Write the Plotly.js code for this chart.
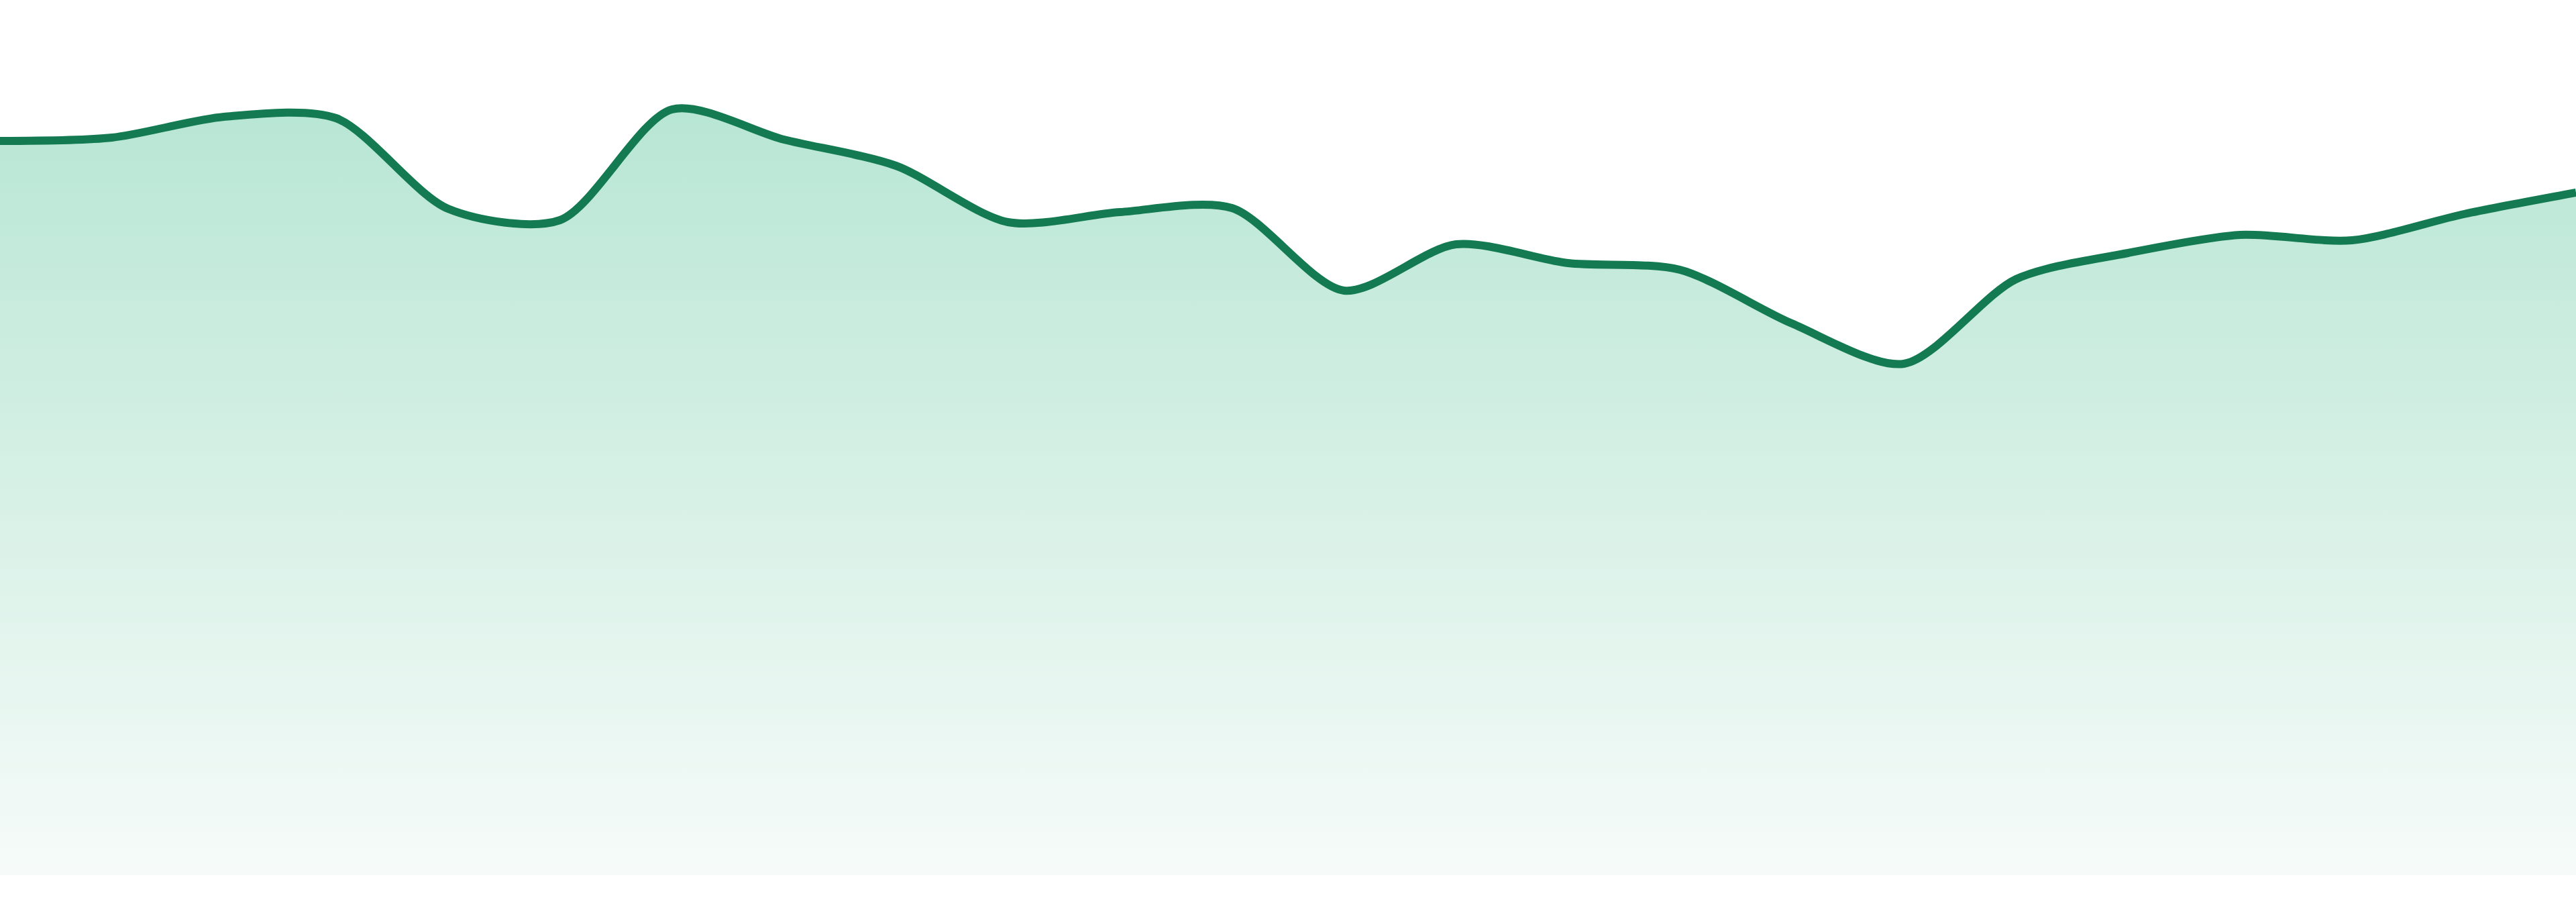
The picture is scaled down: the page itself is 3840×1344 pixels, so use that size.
<!DOCTYPE html>
<html>
<head>
<meta charset="utf-8">
<script src="https://cdn.plot.ly/plotly-3.0.1.min.js"></script>
<style>
  html, body { margin: 0; padding: 0; background: #ffffff; }
  #myDiv { width: 3840px; height: 1344px; }
</style>
</head>
<body>
<div id="myDiv"></div>
<script>
// one value per step
var steps = [0, 1, 2, 3, 4, 5, 6, 7, 8, 9, 10, 11, 12, 13, 14, 15, 16, 17, 18, 19, 20, 21, 22, 23];
var values = [1094, 1099, 1130, 1128, 993, 976, 1141, 1096, 1057, 973, 988, 994,
              871, 940, 912, 902, 822, 762, 888, 927, 954, 946, 985, 1017];

var trace = {
    x: steps,
    y: values,
    type: 'scatter',
    mode: 'lines',
    line: { color: '#137a51', width: 12, shape: 'spline', smoothing: 0.8 },
    fill: 'tozeroy',
    fillgradient: {
        type: 'vertical',
        start: 0,
        stop: 1141,
        colorscale: [[0, 'rgb(246,251,249)'], [1, 'rgb(184,230,212)']]
    },
    hoverinfo: 'skip'
};

var layout = {
    width: 3840,
    height: 1344,
    margin: { l: 0, r: 0, t: 0, b: 40 },
    paper_bgcolor: '#ffffff',
    plot_bgcolor: '#ffffff',
    showlegend: false,
    xaxis: { range: [0, 23], showgrid: false, zeroline: false, showticklabels: false, showline: false, fixedrange: true },
    yaxis: { range: [0, 1304], showgrid: false, zeroline: false, showticklabels: false, showline: false, fixedrange: true }
};

Plotly.newPlot('myDiv', [trace], layout, { displayModeBar: false, staticPlot: true });
</script>
</body>
</html>
